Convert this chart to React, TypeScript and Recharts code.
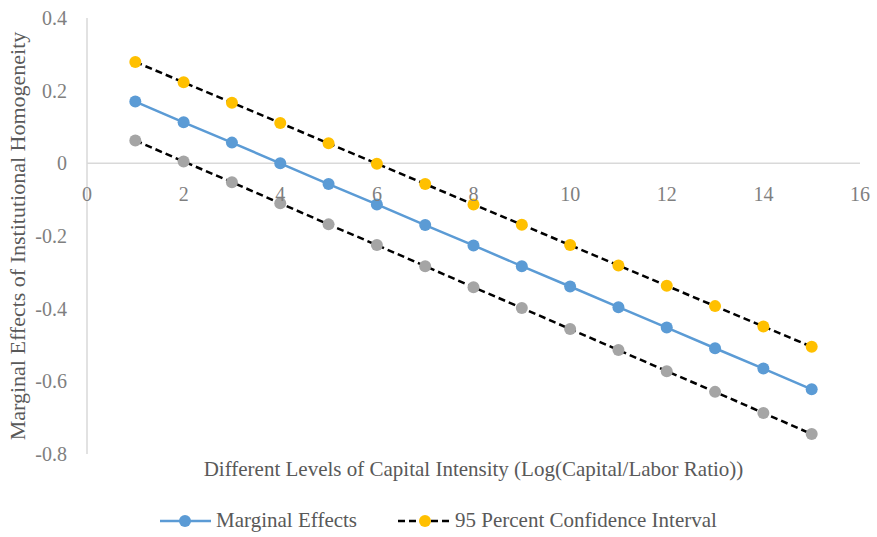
import React from 'react';
import { LineChart, Line, XAxis, YAxis, ReferenceLine } from 'recharts';

// Capital intensity levels (x) and estimated effects
const levels = [1, 2, 3, 4, 5, 6, 7, 8, 9, 10, 11, 12, 13, 14, 15];
const marginalEffects = [0.17, 0.113, 0.057, 0.0, -0.057, -0.113, -0.17, -0.226, -0.283, -0.339, -0.396, -0.452, -0.509, -0.565, -0.622];
const upperBound = [0.279, 0.223, 0.167, 0.111, 0.055, -0.001, -0.057, -0.113, -0.169, -0.225, -0.281, -0.337, -0.393, -0.449, -0.505];
const lowerBound = [0.063, 0.005, -0.052, -0.11, -0.168, -0.225, -0.283, -0.341, -0.398, -0.456, -0.514, -0.572, -0.629, -0.687, -0.745];

const xTicks = [0, 2, 4, 6, 8, 10, 12, 14, 16];
const yTicks = [-0.8, -0.6, -0.4, -0.2, 0, 0.2, 0.4];

const data = levels.map((x, i) => ({
  x,
  me: marginalEffects[i],
  hi: upperBound[i],
  lo: lowerBound[i],
}));

const W = 877;
const H = 537;
const M = { top: 18, right: 17, bottom: 59, left: 0 };
const X_AXIS_H = 24;
const Y_AXIS_W = 87;
const PLOT_H = H - M.top - M.bottom - X_AXIS_H;
const Y_MIN = -0.8;
const Y_MAX = 0.4;
// distance from the bottom of the plot up to the zero line
const ZERO_SHIFT = (PLOT_H * (0 - Y_MIN)) / (Y_MAX - Y_MIN);

const FONT = '"Liberation Serif", "Times New Roman", serif';
const TICK_COLOR = '#7f7f7f';
const TEXT_COLOR = '#595959';
const AXIS_COLOR = '#d9d9d9';

const XTick = (props: any) => {
  const { x, y, payload } = props;
  return (
    <text
      x={x}
      y={y - ZERO_SHIFT + 23}
      textAnchor="middle"
      dominantBaseline="central"
      fill={TICK_COLOR}
      style={{ fontSize: 20, fontFamily: FONT }}
    >
      {payload.value}
    </text>
  );
};

const YTick = (props: any) => {
  const { x, y, payload } = props;
  const v = payload.value;
  return (
    <text x={x} y={y} textAnchor="end" dominantBaseline="central" fill={TICK_COLOR} style={{ fontSize: 20, fontFamily: FONT }}>
      {v === 0 ? '0' : v.toFixed(1)}
    </text>
  );
};

export default function App() {
  return (
    <div style={{ position: 'absolute', left: 0, top: 0, width: W, height: H, background: '#fff', fontFamily: FONT }}>
      <LineChart width={W} height={H} data={data} margin={M}>
        <XAxis
          dataKey="x"
          type="number"
          domain={[0, 16]}
          ticks={xTicks}
          axisLine={false}
          tickLine={false}
          height={X_AXIS_H}
          tick={<XTick />}
          label={{
            content: ({ viewBox }: any) => (
              <text
                x={viewBox.x + viewBox.width / 2}
                y={viewBox.y + 15}
                textAnchor="middle"
                dominantBaseline="central"
                fill={TEXT_COLOR}
                style={{ fontSize: 21, fontFamily: FONT }}
              >
                Different Levels of Capital Intensity (Log(Capital/Labor Ratio))
              </text>
            ),
          }}
        />
        <YAxis
          type="number"
          domain={[Y_MIN, Y_MAX]}
          ticks={yTicks}
          width={Y_AXIS_W}
          axisLine={{ stroke: AXIS_COLOR, strokeWidth: 1.5 }}
          tickLine={false}
          tickMargin={14}
          tick={<YTick />}
          label={{
            content: ({ viewBox }: any) => {
              const cx = 17;
              const cy = viewBox.y + viewBox.height / 2;
              return (
                <text
                  x={cx}
                  y={cy}
                  transform={`rotate(-90 ${cx} ${cy})`}
                  textAnchor="middle"
                  dominantBaseline="central"
                  fill={TEXT_COLOR}
                  style={{ fontSize: 22, fontFamily: FONT }}
                >
                  Marginal Effects of Institutional Homogeneity
                </text>
              );
            },
          }}
        />
        <ReferenceLine y={0} stroke={AXIS_COLOR} strokeWidth={1.5} />
        <Line
          type="linear"
          dataKey="hi"
          stroke="#000"
          strokeWidth={2.5}
          strokeDasharray="7 4"
          dot={{ r: 6, fill: '#FFC000', stroke: 'none' }}
          isAnimationActive={false}
        />
        <Line
          type="linear"
          dataKey="lo"
          stroke="#000"
          strokeWidth={2.5}
          strokeDasharray="7 4"
          dot={{ r: 6, fill: '#A5A5A5', stroke: 'none' }}
          isAnimationActive={false}
        />
        <Line
          type="linear"
          dataKey="me"
          stroke="#5B9BD5"
          strokeWidth={2.5}
          dot={{ r: 6, fill: '#5B9BD5', stroke: 'none' }}
          isAnimationActive={false}
        />
      </LineChart>
      <div
        style={{
          position: 'absolute',
          top: 508,
          left: 0,
          width: W,
          display: 'flex',
          justifyContent: 'center',
          alignItems: 'center',
          fontFamily: FONT,
          fontSize: 21,
          color: TEXT_COLOR,
        }}
      >
        <svg width={51} height={14} style={{ marginRight: 5 }}>
          <line x1={0} y1={7} x2={51} y2={7} stroke="#5B9BD5" strokeWidth={2.5} />
          <circle cx={25} cy={7} r={6} fill="#5B9BD5" />
        </svg>
        <span style={{ marginRight: 41 }}>Marginal Effects</span>
        <svg width={55} height={14} style={{ marginRight: 2 }}>
          <line x1={0} y1={7} x2={55} y2={7} stroke="#000" strokeWidth={2.5} strokeDasharray="7 4" />
          <circle cx={27} cy={7} r={6} fill="#FFC000" />
        </svg>
        <span>95 Percent Confidence Interval</span>
      </div>
    </div>
  );
}
